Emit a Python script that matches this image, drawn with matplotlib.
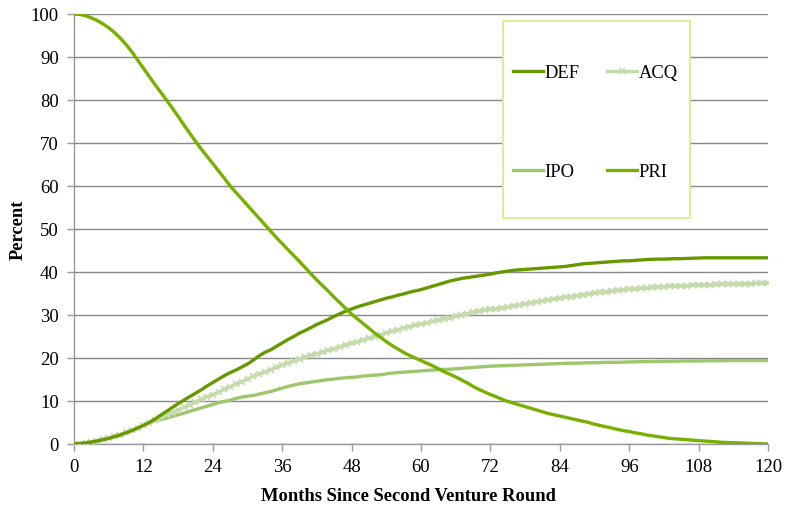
import matplotlib
matplotlib.use("Agg")
import matplotlib.pyplot as plt
from matplotlib.patches import Rectangle

months = list(range(0, 121))

DEF = [0, 0.1, 0.25, 0.45, 0.7, 1.0, 1.3, 1.7, 2.1, 2.6, 3.1, 3.7, 4.3, 5.0, 5.8, 6.7, 7.6, 8.5, 9.4, 10.2,
       11.0, 11.8, 12.6, 13.5, 14.3, 15.1, 15.9, 16.6, 17.2, 17.9, 18.6, 19.5, 20.5, 21.3, 21.9, 22.7, 23.5, 24.3, 25.0, 25.8,
       26.4, 27.1, 27.8, 28.4, 29.0, 29.7, 30.3, 30.9, 31.4, 31.9, 32.3, 32.7, 33.1, 33.5, 33.9, 34.2, 34.6, 34.9, 35.3, 35.6,
       35.9, 36.3, 36.7, 37.1, 37.5, 37.9, 38.2, 38.5, 38.7, 38.9, 39.1, 39.3, 39.5, 39.8, 40.0, 40.2, 40.4, 40.5, 40.6, 40.7,
       40.8, 40.9, 41.0, 41.1, 41.2, 41.3, 41.5, 41.7, 41.9, 42.0, 42.1, 42.2, 42.3, 42.4, 42.5, 42.6, 42.6, 42.7, 42.8, 42.9,
       42.95, 43.0, 43.0, 43.05, 43.1, 43.1, 43.15, 43.2, 43.25, 43.3, 43.3, 43.3, 43.3, 43.3, 43.3, 43.3, 43.3, 43.3, 43.3, 43.3,
       43.3]

ACQ = [0, 0.1, 0.3, 0.5, 0.8, 1.1, 1.4, 1.8, 2.2, 2.7, 3.2, 3.8, 4.4, 5.0, 5.6, 6.1, 6.7, 7.3, 7.9, 8.5,
       9.1, 9.7, 10.4, 11.0, 11.5, 12.1, 12.7, 13.3, 13.9, 14.5, 15.1, 15.7, 16.3, 16.8, 17.3, 17.8, 18.3, 18.8, 19.3, 19.8,
       20.2, 20.6, 21.0, 21.4, 21.8, 22.2, 22.6, 23.0, 23.4, 23.8, 24.2, 24.6, 25.0, 25.4, 25.8, 26.2, 26.6, 27.0, 27.3, 27.6,
       27.9, 28.2, 28.5, 28.8, 29.1, 29.4, 29.7, 30.0, 30.3, 30.6, 30.9, 31.1, 31.3, 31.5, 31.7, 31.9, 32.1, 32.3, 32.6, 32.9,
       33.1, 33.3, 33.5, 33.7, 33.9, 34.1, 34.3, 34.5, 34.7, 34.9, 35.1, 35.25, 35.4, 35.55, 35.7, 35.85, 36.0, 36.1, 36.2, 36.3,
       36.4, 36.5, 36.6, 36.7, 36.75, 36.8, 36.85, 36.9, 36.95, 37.0, 37.05, 37.1, 37.15, 37.2, 37.2, 37.25, 37.3, 37.3, 37.35, 37.35,
       37.4]

IPO = [0, 0.1, 0.3, 0.5, 0.8, 1.1, 1.4, 1.8, 2.2, 2.7, 3.2, 3.8, 4.4, 5.0, 5.4, 5.7, 6.0, 6.4, 6.8, 7.2,
       7.6, 8.0, 8.4, 8.8, 9.2, 9.6, 9.9, 10.2, 10.6, 10.9, 11.1, 11.3, 11.6, 11.9, 12.2, 12.6, 13.0, 13.4, 13.7, 14.0,
       14.2, 14.4, 14.6, 14.8, 15.0, 15.1, 15.3, 15.4, 15.5, 15.6, 15.8, 15.9, 16.0, 16.1, 16.3, 16.5, 16.6, 16.7, 16.8, 16.9,
       17.0, 17.1, 17.2, 17.3, 17.35, 17.4, 17.5, 17.6, 17.7, 17.8, 17.9, 18.0, 18.1, 18.15, 18.2, 18.25, 18.3, 18.35, 18.4, 18.45,
       18.5, 18.55, 18.6, 18.65, 18.7, 18.75, 18.8, 18.8, 18.85, 18.9, 18.9, 18.95, 19.0, 19.0, 19.0, 19.05, 19.1, 19.1, 19.15, 19.15,
       19.2, 19.2, 19.2, 19.25, 19.25, 19.3, 19.3, 19.3, 19.3, 19.35, 19.35, 19.35, 19.35, 19.4, 19.4, 19.4, 19.4, 19.4, 19.4, 19.4,
       19.4]

PRI = [100, 99.9, 99.6, 99.1, 98.5, 97.7, 96.8, 95.7, 94.4, 92.9, 91.2, 89.3, 87.4, 85.5, 83.6, 81.8, 80.0, 78.1, 76.2, 74.2,
       72.3, 70.4, 68.6, 66.9, 65.2, 63.5, 61.8, 60.0, 58.5, 57.0, 55.5, 54.0, 52.5, 51.0, 49.5, 48.0, 46.6, 45.2, 43.8, 42.4,
       41.0, 39.5, 38.1, 36.8, 35.5, 34.1, 32.8, 31.5, 30.2, 29.1, 28.0, 26.9, 25.8, 24.8, 23.8, 22.9, 22.1, 21.3, 20.6, 20.0,
       19.4, 18.8, 18.2, 17.5, 16.8, 16.2, 15.6, 14.9, 14.2, 13.4, 12.7, 12.1, 11.5, 11.0, 10.4, 9.9, 9.5, 9.1, 8.7, 8.3,
       7.9, 7.5, 7.1, 6.8, 6.5, 6.2, 5.9, 5.6, 5.3, 5.0, 4.6, 4.3, 4.0, 3.7, 3.4, 3.1, 2.9, 2.6, 2.4, 2.1,
       1.9, 1.7, 1.5, 1.3, 1.2, 1.1, 1.0, 0.9, 0.8, 0.7, 0.6, 0.5, 0.4, 0.35, 0.3, 0.25, 0.2, 0.15, 0.1, 0.05,
       0.0]

x_ticks = list(range(0, 121, 12))
y_ticks = list(range(0, 101, 10))

plt.rcParams['font.family'] = ['Liberation Serif', 'DejaVu Serif']

W, H = 785, 510
fig = plt.figure(figsize=(W / 100, H / 100), dpi=100)
L, R, T, B = 74, 768, 15, 445
ax = fig.add_axes([L / W, (H - B) / H, (R - L) / W, (B - T) / H])

c_def = '#669900'
c_acq = '#c4dbab'
c_ipo = '#9cc76a'
c_pri = '#77b000'

ax.plot(months, IPO, color=c_ipo, lw=2.4, label='IPO', zorder=3)
ax.plot(months, ACQ, color=c_acq, lw=2.4, marker='x', ms=4, mew=1.2, label='ACQ', zorder=3)
ax.plot(months, DEF, color=c_def, lw=2.4, label='DEF', zorder=4)
ax.plot(months, PRI, color=c_pri, lw=2.4, label='PRI', zorder=4)

ax.set_xlim(0, 120)
ax.set_ylim(0, 100)
ax.set_xticks(x_ticks)
ax.set_yticks(y_ticks)
ax.tick_params(axis='both', labelsize=13.5, color='#999999', length=5, width=1)
ax.tick_params(axis='y', pad=6)
ax.tick_params(axis='x', pad=5)
ax.yaxis.grid(True, color='#888888', lw=1)
ax.set_axisbelow(True)
for s in ['top', 'right']:
    ax.spines[s].set_visible(False)
for s in ['left', 'bottom']:
    ax.spines[s].set_color('#999999')
    ax.spines[s].set_linewidth(1)

ax.set_xlabel('Months Since Second Venture Round', fontsize=13.3, fontweight='bold')
ax.xaxis.set_label_coords((408.5 - L) / (R - L), -(497 - B) / (B - T), transform=ax.transAxes)
ax.xaxis.label.set_va('center')
ax.set_ylabel('Percent', fontsize=13.3, fontweight='bold', labelpad=3)

# legend box
def ax_frac(px, py):
    return ((px - L) / (R - L), (B - py) / (B - T))

x0, y0 = ax_frac(503, 219)
x1, y1 = ax_frac(690, 22)
ax.add_patch(Rectangle((x0, y0), x1 - x0, y1 - y0, transform=ax.transAxes,
                       facecolor='white', edgecolor='#d4ef90', lw=1.3, zorder=5, clip_on=False))

h = {l.get_label(): l for l in ax.get_lines()}
lx, ly = ax_frac(513, 65)
leg = ax.legend([h['DEF'], h['IPO'], h['ACQ'], h['PRI']], ['DEF', 'IPO', 'ACQ', 'PRI'],
                ncol=2, loc='upper left', bbox_to_anchor=(lx, ly),
                fontsize=13.3, frameon=False,
                handlelength=1.6, handletextpad=0.1, columnspacing=1.5,
                labelspacing=4.45, borderpad=0, borderaxespad=0)
leg.set_zorder(6)

fig.savefig('out.png', dpi=100)
